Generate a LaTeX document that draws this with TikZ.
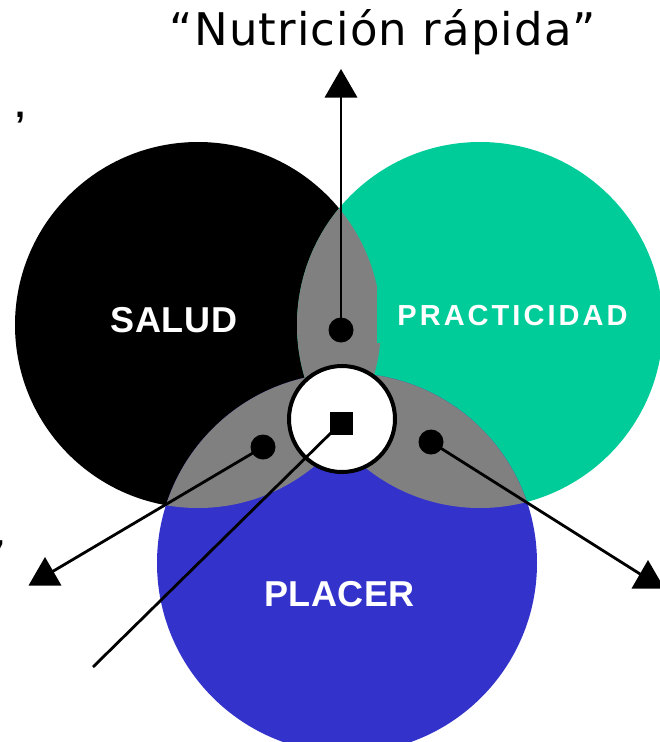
\documentclass[tikz,border=0pt]{standalone}
\usepackage{fontspec}
\setmainfont{Liberation Sans}
\newfontfamily\titlefont[LetterSpace=2.5]{DejaVu Sans}
\newfontfamily\labfont[LetterSpace=1.5]{Liberation Sans}
\newfontfamily\wideflab[LetterSpace=10.5]{Liberation Sans}
\usetikzlibrary{shapes.geometric}
\definecolor{cgreen}{RGB}{0,204,153}
\definecolor{cblue}{RGB}{51,51,204}
\definecolor{cgray}{RGB}{128,128,128}
\tikzset{
  dotn/.style={circle,fill=black,inner sep=0pt,minimum size=25pt},
  tri/.style={regular polygon,regular polygon sides=3,fill=black,inner sep=0pt,minimum size=38pt},
  conn/.style={line width=2.8pt,black},
  biglab/.style={text=white,inner sep=0pt,font=\labfont\bfseries\fontsize{36}{40}\selectfont}
}
\begin{document}
\begin{tikzpicture}[x=1pt,y=-1pt]
\useasboundingbox (0,0) rectangle (660,742);
% circles
\fill[black] (198,325) circle[radius=183pt];
\fill[cgreen] (480,325) circle[radius=183pt];
\fill[cblue] (347,563) circle[radius=190pt];
% pairwise overlaps
\begin{scope}
  \clip (198,325) circle[radius=183pt];
  \fill[cgray] (480,325) circle[radius=183pt];
  \fill[cgray] (347,563) circle[radius=190pt];
\end{scope}
\begin{scope}
  \clip (480,325) circle[radius=183pt];
  \fill[cgray] (347,563) circle[radius=190pt];
\end{scope}
% labels
\node[biglab] (salud) at (174,320.5) {SALUD};
\node[biglab] (placer) at (339.5,594.5) {PLACER};
\node[fill=cgreen,text=white,inner sep=0pt,minimum width=271pt,minimum height=54pt,
      font=\wideflab\bfseries\fontsize{29}{32}\selectfont] (pract) at (512.5,316) {PRACTICIDAD};
\node[font=\titlefont\fontsize{45}{54}\selectfont,anchor=base] (title) at (383,45) {“Nutrición rápida”};
\node[font=\bfseries\fontsize{36}{40}\selectfont,anchor=north,inner sep=0pt] (comma) at (21,112) {,};
\node[font=\titlefont\fontsize{45}{54}\selectfont,anchor=north east,inner sep=0pt] (quote) at (7,540) {”};
% centre
\node[circle,draw=black,line width=4pt,fill=white,minimum size=106pt,inner sep=0pt] (core) at (342,419) {};
\node[rectangle,fill=black,minimum size=23pt,inner sep=0pt] (sq) at (341,423) {};
% dots
\node[dotn] (dtop) at (341,330) {};
\node[dotn] (dleft) at (263,447) {};
\node[dotn] (dright) at (431,442) {};
% triangle markers
\node[tri] (ttop) at (341,88) {};
\node[tri] (tleft) at (45,576) {};
\node[tri] (tright) at (648,579) {};
\coordinate (dend) at (93,667);
% connectors
\draw[conn] (dtop.center) -- (ttop.center);
\draw[conn] (dleft.center) -- (tleft.center);
\draw[conn] (dright.center) -- (tright.center);
\draw[conn] (sq.center) -- (dend);
\end{tikzpicture}
\end{document}
